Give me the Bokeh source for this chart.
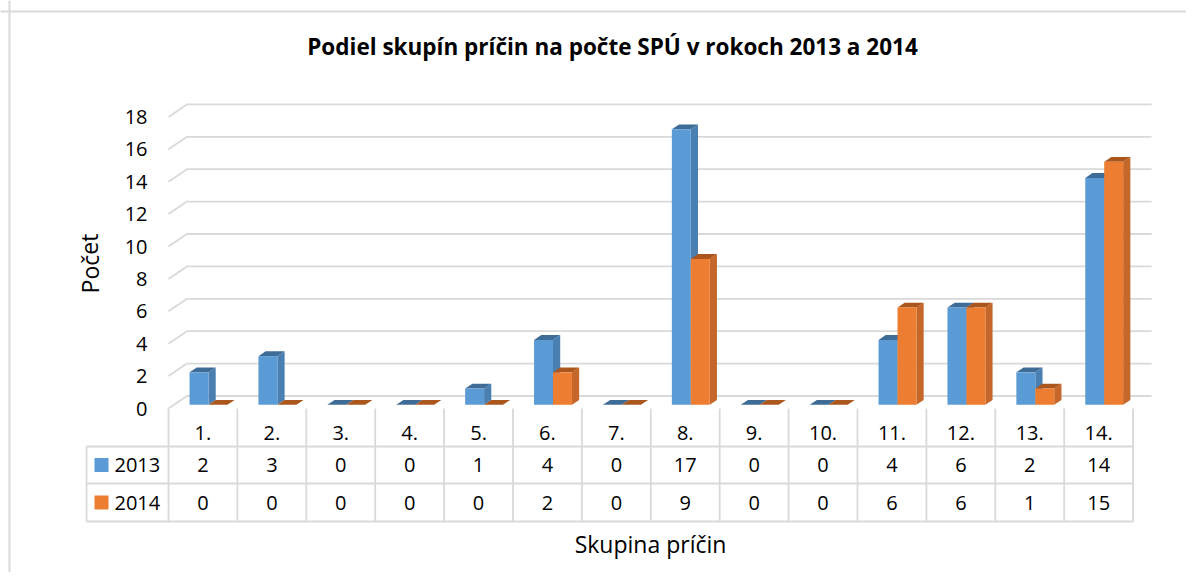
from bokeh.plotting import figure
from bokeh.models import Range1d, ColumnDataSource, Span
from bokeh.core.properties import value
from bokeh.embed import file_html
from bokeh.resources import INLINE

# ---------------- data ----------------
categories = ["1.", "2.", "3.", "4.", "5.", "6.", "7.", "8.", "9.", "10.", "11.", "12.", "13.", "14."]
series_names = ["2013", "2014"]
values_2013 = [2, 3, 0, 0, 1, 4, 0, 17, 0, 0, 4, 6, 2, 14]
values_2014 = [0, 0, 0, 0, 0, 2, 0, 9, 0, 0, 6, 6, 1, 15]
y_ticks = [0, 2, 4, 6, 8, 10, 12, 14, 16, 18]
title_text = "Podiel skupín príčin na počte SPÚ v rokoch 2013 a 2014"
x_title = "Skupina príčin"
y_title = "Počet"

# ---------------- layout (pixel scale of the drawing) ----------------
W, H = 1186, 572
PX = 68.9      # pixels per category
PY = 16.2      # pixels per value unit
X0, Y0 = 168.0, 408.0  # figure-pixel position of category 0 / value 0 on the front plane
FONT = value("Open Sans")

def ux(px):  # pixel offset -> x data units
    return px / PX

def uy(py):
    return py / PY

n = len(categories)
p = figure(width=W, height=H, output_backend="svg", toolbar_location=None,
           x_range=Range1d(-X0 / PX, (W - X0) / PX),
           y_range=Range1d(-(H - Y0) / PY, Y0 / PY),
           x_axis_location=None, y_axis_location=None, min_border=0,
           outline_line_color=None, background_fill_color="white",
           border_fill_color="white")
p.grid.visible = False

# chart area border (left and top visible)
p.add_layout(Span(location=-X0 / PX + ux(9), dimension="height", line_color="#d9d9d9", line_width=2))
p.add_layout(Span(location=Y0 / PY - uy(11), dimension="width", line_color="#d9d9d9", line_width=2))

# 3D depth of the floor / walls
DX, DY = ux(18.5), uy(12.5)

# gridlines: front-left diagonal + back wall
gx, gy = [], []
for t in y_ticks:
    gx.append([0, DX, n + DX])
    gy.append([t, t + DY, t + DY])
p.multi_line(xs=gx, ys=gy, line_color="#d9d9d9", line_width=1.8)

# y tick labels
p.text(x=[ux(-21)] * len(y_ticks), y=y_ticks, text=[str(t) for t in y_ticks],
       text_font=FONT, text_font_size="20px", text_align="right", text_baseline="middle",
       text_color="#000000")

# bars
bw = 0.275
f0, f1 = 0.30, 0.69  # depth fractions of bar front/back
colors = [("#5B9BD5", "#4A7FB1", "#3E6C97"), ("#ED7D31", "#C5662A", "#AB561D")]
for s, vals in enumerate([values_2013, values_2014]):
    front, side, top = colors[s]
    x0s = [i + 0.5 - bw + s * bw + f0 * DX for i in range(n)]
    x1s = [x + bw for x in x0s]
    base = f0 * DY
    tops = [v + base for v in vals]
    bdx, bdy = (f1 - f0) * DX, (f1 - f0) * DY
    side_xs = [[x1, x1 + bdx, x1 + bdx, x1] for x1 in x1s]
    side_ys = [[base, base + bdy, t + bdy, t] for t in tops]
    top_xs = [[x0, x1, x1 + bdx, x0 + bdx] for x0, x1 in zip(x0s, x1s)]
    top_ys = [[t, t, t + bdy, t + bdy] for t in tops]
    p.patches(xs=side_xs, ys=side_ys, fill_color=side, line_color=None)
    p.patches(xs=top_xs, ys=top_ys, fill_color=top, line_color=None)
    src = ColumnDataSource(dict(x=[(a + b) / 2 for a, b in zip(x0s, x1s)], top=tops, bottom=[base] * n))
    p.vbar(x="x", top="top", bottom="bottom", width=bw, source=src, fill_color=front, line_color=None)

# data table
row_y = [0, uy(-38), uy(-75), uy(-113)]   # header top, separators, bottom
leg_x = ux(-82)
tx, ty = [], []
for k in range(n + 1):
    tx.append([k, k]); ty.append([row_y[0], row_y[3]])
tx.append([leg_x, leg_x]); ty.append([row_y[1], row_y[3]])
for r in row_y[1:]:
    tx.append([leg_x, n]); ty.append([r, r])
p.multi_line(xs=tx, ys=ty, line_color="#d9d9d9", line_width=1.8)

cx = [i + 0.5 for i in range(n)]
p.text(x=cx, y=[uy(-24)] * n, text=categories, text_font=FONT, text_font_size="20px",
       text_align="center", text_baseline="middle", text_color="#000000")
row_centers = [uy(-56.5), uy(-94)]
for s, vals in enumerate([values_2013, values_2014]):
    p.text(x=cx, y=[row_centers[s]] * n, text=[str(v) for v in vals], text_font=FONT,
           text_font_size="20px", text_align="center", text_baseline="middle", text_color="#000000")
    p.scatter(x=[ux(-67)], y=[row_centers[s]], marker="square", size=14,
              fill_color=colors[s][0], line_color=None)
    p.text(x=[ux(-54)], y=[row_centers[s]], text=[series_names[s]], text_font=FONT,
           text_font_size="20px", text_align="left", text_baseline="middle", text_color="#000000")

# titles
p.text(x=[ux(444)], y=[uy(362)], text=[title_text], text_font=FONT, text_font_size="22.5px",
       text_font_style="bold", text_align="center", text_baseline="middle", text_color="#000000")
p.text(x=[ux(482)], y=[uy(-135)], text=[x_title], text_font=FONT, text_font_size="23px",
       text_align="center", text_baseline="middle", text_color="#000000")
p.text(x=[ux(-79)], y=[uy(145)], text=[y_title], text_font=FONT, text_font_size="23px",
       text_align="center", text_baseline="middle", angle=1.5708, text_color="#000000")

open("out.html", "w").write(file_html(p, INLINE))
